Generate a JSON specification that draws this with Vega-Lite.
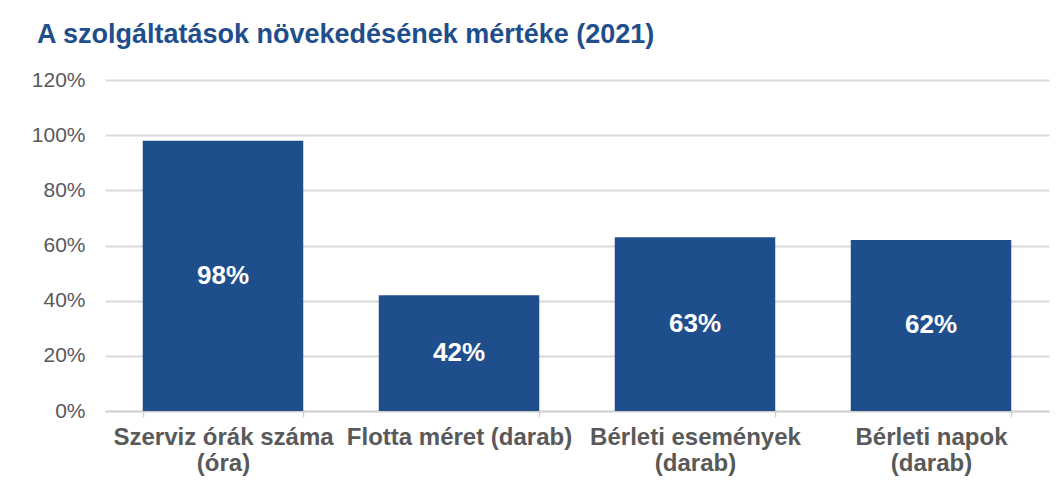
{
  "$schema": "https://vega.github.io/schema/vega-lite/v6.json",
  "width": 944,
  "height": 331,
  "autosize": "none",
  "padding": {"left": 105, "top": 80, "right": 15, "bottom": 70},
  "background": "white",
  "config": {
    "view": {"stroke": null},
    "font": "Liberation Sans"
  },
  "title": {
    "text": "A szolgáltatások növekedésének mértéke (2021)",
    "anchor": "start",
    "frame": "group",
    "dx": -68,
    "baseline": "alphabetic",
    "offset": -1,
    "font": "Liberation Sans",
    "fontSize": 27,
    "fontWeight": "bold",
    "color": "#1F4E8C"
  },
  "data": {
    "values": [
      {"cat": "Szerviz órák száma|(óra)", "value": 0.98, "label": "98%"},
      {"cat": "Flotta méret (darab)", "value": 0.42, "label": "42%"},
      {"cat": "Bérleti események|(darab)", "value": 0.63, "label": "63%"},
      {"cat": "Bérleti napok|(darab)", "value": 0.62, "label": "62%"}
    ]
  },
  "encoding": {
    "x": {
      "field": "cat",
      "type": "nominal",
      "sort": null,
      "scale": {"paddingInner": 0.32, "paddingOuter": 0.16},
      "axis": {
        "title": null,
        "labelAngle": 0,
        "labelExpr": "datum.value ? split(datum.value, '|') : ''",
        "labelFont": "Liberation Sans",
        "labelFontSize": 24,
        "labelFontWeight": "bold",
        "labelColor": "#595959",
        "labelLineHeight": 26,
        "labelPadding": 8,
        "labelBaseline": "top",
        "labelLimit": 0,
        "labelOverlap": false,
        "tickBand": "extent",
        "ticks": true,
        "tickSize": 6,
        "tickColor": "#d0d0d0",
        "tickWidth": 1.5,
        "domainColor": "#d0d0d0",
        "domainWidth": 1.5,
        "grid": false
      }
    }
  },
  "layer": [
    {
      "mark": {"type": "bar", "color": "#1F4E8C"},
      "encoding": {
        "y": {
          "field": "value",
          "type": "quantitative",
          "scale": {"domain": [0, 1.2], "nice": false},
          "axis": {
            "title": null,
            "format": ".0%",
            "values": [0, 0.2, 0.4, 0.6, 0.8, 1.0, 1.2],
            "labelFont": "Liberation Sans",
            "labelFontSize": 21,
            "labelColor": "#595959",
            "labelPadding": 20,
            "ticks": false,
            "domain": false,
            "grid": true,
            "gridColor": "#d9d9d9",
            "gridWidth": 2
          }
        }
      }
    },
    {
      "transform": [{"calculate": "datum.value / 2", "as": "mid"}],
      "mark": {
        "type": "text",
        "color": "white",
        "fontSize": 26,
        "fontWeight": "bold",
        "font": "Liberation Sans",
        "baseline": "middle"
      },
      "encoding": {
        "y": {"field": "mid", "type": "quantitative", "scale": {"domain": [0, 1.2], "nice": false}},
        "text": {"field": "label"}
      }
    }
  ]
}
